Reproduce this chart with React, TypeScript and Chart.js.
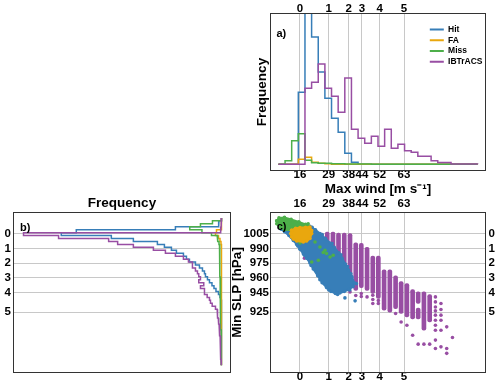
import React, { useEffect, useRef } from 'react';
import { Chart, registerables } from 'chart.js';

Chart.register(...registerables);

const FONT = "'Liberation Sans', Arial, Helvetica, sans-serif";
Chart.defaults.font.family = FONT;
Chart.defaults.color = '#000';

const C_HIT = '#377eb8';
const C_FA = '#e9a70e';
const C_MISS = '#4daf4a';
const C_IBT = '#984ea3';
const GRID = '#c8c8c8';
const FRAME = '#333333';

// ---------- shared ticks ----------
const WIND_TICKS = [16, 29, 38, 44, 52, 63];
const WIND_TICK_LABELS = ['16', '29', '38', '44', '52', '63'];
const CAT_LABELS = ['0', '1', '2', '3', '4', '5'];
const SLP_TICKS = [1005, 990, 975, 960, 945, 925];
const SLP_TICK_LABELS = ['1005', '990', '975', '960', '945', '925'];

// ---------- panel a: max wind histograms ----------
const WIND_EDGES = [6.25, 9.25, 12.25, 15.25, 18.25, 21.25, 24.25, 27.25, 30.25, 33.25, 36.25, 39.25, 42.25, 45.25, 48.25, 51.25, 54.25, 57.25, 60.25, 63.25, 66.25, 69.25, 72.25, 75.25, 78.25, 81.25, 84.25, 87.25, 90.25, 93.25, 96.25];
const HIT_WIND = [0, 0, 0, 72, 200, 127, 92, 66, 46, 32, 11, 2, 0, 0, 0, 0, 0, 0, 0, 0, 0, 0, 0, 0, 0, 0, 0, 0, 0, 0];
const FA_WIND = [0, 0, 0, 5, 7, 2, 1, 0.5, 0, 0, 0, 0, 0, 0, 0, 0, 0, 0, 0, 0, 0, 0, 0, 0, 0, 0, 0, 0, 0, 0];
const MISS_WIND = [0, 3.5, 23.5, 30.5, 4, 1.5, 1, 1, 0.5, 0.5, 0.4, 0.3, 0.2, 0.2, 0, 0, 0, 0, 0, 0, 0, 0, 0, 0, 0, 0, 0, 0, 0, 0];
const IBT_WIND = [0, 0, 0, 0, 76, 82, 100, 76, 68, 52, 86, 35, 26, 21, 28, 18, 35, 16, 20, 13.5, 12, 8, 8, 3.5, 1.8, 1.8, 0.4, 0.4, 0.4, 0.4];

// ---------- panel b: min SLP histograms ----------
const SLP_EDGES = [1021, 1018, 1015, 1012, 1009, 1006, 1003, 1000, 997, 994, 991, 988, 985, 982, 979, 976, 973, 970, 967, 964, 961, 958, 955, 952, 949, 946, 943, 940, 937, 934, 931, 928, 925, 922, 919, 916, 913, 910, 907, 904, 901, 898, 895, 892, 889, 886, 883, 880, 877, 874, 871];
const HIT_SLP = [0, 2.5, 3, 46, 145, 160, 110, 88, 64, 57, 50, 45, 38, 35, 32, 26, 22, 19, 17, 16, 14, 12, 9.5, 7.5, 5.5, 3, 1.5, 0.5, 0, 0, 0, 0, 0, 0, 0, 0, 0, 0, 0, 0, 0, 0, 0, 0, 0, 0, 0, 0, 0, 0];
const FA_SLP = [0, 0, 0, 0, 5, 6, 3, 1.5, 0.5, 0, 0, 0, 0, 0, 0, 0, 0, 0, 0, 0, 0, 0, 0, 0, 0, 0, 0, 0, 0, 0, 0, 0, 0, 0, 0, 0, 0, 0, 0, 0, 0, 0, 0, 0, 0, 0, 0, 0, 0, 0];
const MISS_SLP = [0, 9, 21, 31.7, 19.5, 10, 4.3, 3.5, 2.5, 2, 2, 1.8, 1.8, 1.7, 1.7, 1.6, 1.6, 1.5, 1.5, 1.5, 1.4, 1.4, 1.3, 1.3, 1.2, 1.2, 1.1, 1, 1, 0.9, 0.8, 0.8, 0.7, 0.7, 0.6, 0.6, 0.5, 0.5, 0.4, 0.4, 0.3, 0.3, 0.3, 0.2, 0.2, 0.2, 0.1, 0.1, 0, 0];
const IBT_SLP = [0.3, 0.3, 0.3, 0.5, 1, 197.7, 162.7, 112.7, 103.7, 88, 68, 56, 46, 38, 33, 29, 29, 26, 24, 22.7, 21, 22.7, 17.7, 21, 17, 17, 14.3, 12, 11, 9.3, 6, 4.3, 4, 3.7, 3.2, 2.7, 2.4, 2, 1.8, 1.7, 1.4, 1.2, 1, 0.9, 0.8, 0.7, 0.6, 0.5, 0.4, 0.3];

// ---------- panel c: wind vs SLP ----------
// Hit cloud outline (dense point cloud) and its edge points
const HIT_CLOUD_WIND = [7.0, 9.5, 13, 17, 20.5, 23, 25, 27.5, 29.5, 31.5, 33.5, 35, 36.5, 38, 39.5, 40.5, 40, 38, 36, 34, 32, 30, 28, 26, 24, 22, 20.5, 19, 17.5, 16, 14.5, 13, 11, 9, 7.5];
const HIT_CLOUD_SLP = [1012, 1014, 1014.5, 1014, 1012.5, 1009, 1005, 1000, 995.5, 991, 985.5, 980, 974, 968, 961, 955, 951, 948, 946, 944.5, 944, 946, 950, 955, 962, 969, 975, 980, 984.5, 989, 994, 998, 1003, 1007, 1009.5];
const HIT_DOT_WIND = [21.5, 26, 30.5, 34.5, 37.5, 39, 41.5, 38.5, 33, 29, 25, 21, 18, 15, 12, 36.3, 40.9];
const HIT_DOT_SLP = [1011.5, 1004, 995, 983.5, 971.5, 964, 954, 947.5, 943, 947.5, 958, 972.5, 983, 992.5, 1001.5, 939.5, 936.5];
// Miss cluster outline and scattered points
const MISS_CLOUD_WIND = [5.5, 6.5, 9, 12, 15.5, 18.5, 19.5, 16, 12, 9, 7, 5.5];
const MISS_CLOUD_SLP = [1018, 1021, 1021.5, 1019.5, 1017, 1014.5, 1013, 1011, 1008.5, 1009, 1011.5, 1015];
const MISS_DOT_WIND = [19.7, 16, 22.8, 25, 27.3, 28, 31, 29.6, 24.3, 21.3, 26.5];
const MISS_DOT_SLP = [1015, 995.4, 996.5, 991.4, 988, 984.7, 983, 981.2, 977.8, 976, 985.8];
// FA cluster outline
const FA_CLOUD_WIND = [12.2, 14, 16, 18.5, 20.5, 21.3, 21.3, 20.5, 19, 17.5, 14.5, 13, 12.2, 11.8];
const FA_CLOUD_SLP = [1008.4, 1010.5, 1011.1, 1011.5, 1011.7, 1008, 1005, 1000, 997.5, 996.5, 997.5, 999.5, 1001.5, 1005];
// IBTrACS: 5-kt columns (pressure ranges) and isolated points
const IBT_COL_WIND = [25.7, 28.3, 30.9, 33.4, 36.0, 38.6, 41.2, 43.7, 46.3, 48.9, 51.4, 54.0, 56.6, 59.2, 61.7, 64.3, 66.9, 69.4, 69.4, 72.0, 74.6];
const IBT_COL_TOP = [1005.5, 1006.5, 1006.5, 1005.5, 1005.5, 1005, 995.5, 995, 991, 982, 982, 968, 968, 962, 956, 954, 948, 945.6, 929, 945.6, 943];
const IBT_COL_BOTTOM = [975, 968, 962, 955, 950, 954, 947, 950, 947, 944, 939, 927, 925, 928.6, 923.6, 920, 918, 934, 918, 906.6, 915];
const IBT_DOT_WIND = [18.0, 38.6, 38.6, 41.2, 43.7, 43.7, 46.3, 48.9, 48.9, 48.9, 51.4, 51.4, 59.2, 61.7, 64.3, 66.9, 69.4, 72.0, 74.6, 77.2, 77.2, 77.2, 77.2, 77.2, 77.2, 77.2, 77.2, 77.2, 77.2, 79.7, 79.7, 79.7, 79.7, 79.7, 79.7, 82.3, 82.3, 82.3, 84.9];
const IBT_DOT_SLP = [980, 950.7, 945.6, 942, 944, 941, 940.5, 942.2, 937.9, 933.8, 936.8, 933.8, 923.6, 915, 911.7, 901.5, 892.4, 892.4, 892.4, 940.5, 935.4, 930.3, 926.3, 921.9, 916.8, 911.7, 906.6, 896.5, 888, 933.8, 927.7, 921.9, 916.8, 906.6, 889.6, 910, 888, 883, 899.2];

const LEGEND_LABELS = ['Hit', 'FA', 'Miss', 'IBTrACS'];
const LEGEND_COLORS = [C_HIT, C_FA, C_MISS, C_IBT];

// ---------- helpers ----------
type Pt = { x: number; y: number };

function stepAlongX(edges: number[], vals: number[]): Pt[] {
  const pts: Pt[] = [{ x: edges[0], y: 0 }];
  vals.forEach((v, i) => {
    pts.push({ x: edges[i], y: v });
    pts.push({ x: edges[i + 1], y: v });
  });
  pts.push({ x: edges[edges.length - 1], y: 0 });
  return pts;
}

function stepAlongY(edges: number[], vals: number[]): Pt[] {
  const pts: Pt[] = [{ x: 0, y: edges[0] }];
  vals.forEach((v, i) => {
    pts.push({ x: v, y: edges[i] });
    pts.push({ x: v, y: edges[i + 1] });
  });
  pts.push({ x: 0, y: edges[edges.length - 1] });
  return pts;
}

function zip(xs: number[], ys: number[], close = false): Pt[] {
  const pts = xs.map((x, i) => ({ x, y: ys[i] }));
  if (close) pts.push({ ...pts[0] });
  return pts;
}

const tickFont = { size: 11.5, weight: 'bold' as const };
const titleFont = { size: 13.5, weight: 'bold' as const };

function fixedTicks(values: number[], labels: string[], padding: number) {
  return {
    afterBuildTicks: (s: any) => {
      s.ticks = values.map((v) => ({ value: v }));
    },
    ticks: {
      autoSkip: false,
      maxRotation: 0,
      minRotation: 0,
      padding,
      font: tickFont,
      color: '#000',
      callback: (v: any) => {
        const i = values.indexOf(Number(v));
        return i >= 0 ? labels[i] : '';
      },
    },
  };
}

function framePlugin(label: string, dx: number, dy: number) {
  return {
    id: 'frame',
    afterDatasetsDraw(chart: any) {
      const { ctx, chartArea: a } = chart;
      ctx.save();
      ctx.strokeStyle = FRAME;
      ctx.lineWidth = 1;
      ctx.strokeRect(a.left - 0.5, a.top - 0.5, a.right - a.left + 1, a.bottom - a.top + 1);
      ctx.font = `bold 11px ${FONT}`;
      ctx.fillStyle = '#000';
      ctx.textAlign = 'left';
      ctx.textBaseline = 'middle';
      ctx.fillText(label, a.left + dx, a.top + dy);
      ctx.restore();
    },
  };
}

const noGrid = { display: false, drawTicks: false };
const baseOptions = {
  responsive: false,
  animation: false as const,
  events: [] as any[],
};

function lineSet(label: string, data: Pt[], color: string, order: number) {
  return {
    label,
    data,
    order,
    showLine: true,
    fill: false,
    borderColor: color,
    backgroundColor: color,
    borderWidth: 1.5,
    pointRadius: 0,
  };
}

function buildPanelA(): any {
  return {
    type: 'scatter',
    data: {
      datasets: [
        lineSet('IBTrACS', stepAlongX(WIND_EDGES, IBT_WIND), C_IBT, 0),
        lineSet('Miss', stepAlongX(WIND_EDGES, MISS_WIND), C_MISS, 1),
        lineSet('FA', stepAlongX(WIND_EDGES, FA_WIND), C_FA, 2),
        lineSet('Hit', stepAlongX(WIND_EDGES, HIT_WIND), C_HIT, 3),
      ],
    },
    options: {
      ...baseOptions,
      layout: { padding: { left: 254, right: 15, top: 0, bottom: 188 } },
      plugins: { legend: { display: false }, tooltip: { enabled: false } },
      scales: {
        x: {
          type: 'linear',
          position: 'bottom',
          min: 2.9,
          max: 99.6,
          grid: { color: GRID, drawTicks: false },
          border: { display: false },
          ...fixedTicks(WIND_TICKS, WIND_TICK_LABELS, -2.5),
          title: { display: true, text: 'Max wind [m s\u207B\u00B9]', font: titleFont, color: '#000', padding: { top: 0, bottom: 1 } },
          afterFit: (s: any) => { s.height = 28; },
        },
        x2: {
          type: 'linear',
          position: 'top',
          min: 2.9,
          max: 99.6,
          grid: noGrid,
          border: { display: false },
          ...fixedTicks(WIND_TICKS, CAT_LABELS, -1.6),
          afterFit: (s: any) => { s.height = 14; },
        },
        y: {
          type: 'linear',
          min: -5.7,
          max: 150,
          grid: noGrid,
          border: { display: false },
          ticks: { display: false },
          title: { display: true, text: 'Frequency', font: titleFont, color: '#000', padding: { top: 0, bottom: 0 } },
          afterFit: (s: any) => { s.width = 17; },
        },
      },
    },
    plugins: [framePlugin('a)', 5.5, 19.5)],
  };
}

function buildPanelB(): any {
  return {
    type: 'scatter',
    data: {
      datasets: [
        lineSet('IBTrACS', stepAlongY(SLP_EDGES, IBT_SLP), C_IBT, 0),
        lineSet('Miss', stepAlongY(SLP_EDGES, MISS_SLP), C_MISS, 1),
        lineSet('FA', stepAlongY(SLP_EDGES, FA_SLP), C_FA, 2),
        lineSet('Hit', stepAlongY(SLP_EDGES, HIT_SLP), C_HIT, 3),
      ],
    },
    options: {
      ...baseOptions,
      layout: { padding: { left: 0, right: 270, top: 193, bottom: 14 } },
      plugins: { legend: { display: false }, tooltip: { enabled: false } },
      scales: {
        x: {
          type: 'linear',
          position: 'top',
          reverse: true,
          min: -8.5,
          max: 207.2,
          grid: noGrid,
          border: { display: false },
          ticks: { display: false },
          title: { display: true, text: 'Frequency', font: titleFont, color: '#000', padding: { top: 2, bottom: 0 } },
          afterFit: (s: any) => { s.height = 20; },
        },
        y: {
          type: 'linear',
          position: 'left',
          min: 864,
          max: 1026,
          grid: { color: GRID, drawTicks: false },
          border: { display: false },
          ...fixedTicks(SLP_TICKS, CAT_LABELS, 3),
          afterFit: (s: any) => { s.width = 14; },
        },
      },
    },
    plugins: [framePlugin('b)', 6, 14.5)],
  };
}

function cloudSet(label: string, xs: number[], ys: number[], color: string, order: number) {
  return {
    label,
    data: zip(xs, ys, true),
    order,
    showLine: true,
    fill: 'shape',
    borderColor: color,
    backgroundColor: color,
    borderWidth: 2,
    pointRadius: 1.8,
    pointBorderWidth: 0,
    pointBackgroundColor: color,
  };
}

function dotSet(label: string, xs: number[], ys: number[], color: string, order: number) {
  return {
    label,
    data: zip(xs, ys),
    order,
    pointRadius: 1.8,
    pointBorderWidth: 0,
    pointBackgroundColor: color,
    backgroundColor: color,
    borderColor: color,
  };
}

function buildPanelC(): any {
  const cols = IBT_COL_WIND.map((w, i) => ({ x: w, y: [IBT_COL_BOTTOM[i], IBT_COL_TOP[i]] }));
  return {
    type: 'scatter',
    data: {
      datasets: [
        cloudSet('FA', FA_CLOUD_WIND, FA_CLOUD_SLP, C_FA, 1),
        cloudSet('Miss', MISS_CLOUD_WIND, MISS_CLOUD_SLP, C_MISS, 2),
        dotSet('Miss points', MISS_DOT_WIND, MISS_DOT_SLP, C_MISS, 2),
        cloudSet('Hit', HIT_CLOUD_WIND, HIT_CLOUD_SLP, C_HIT, 3),
        dotSet('Hit points', HIT_DOT_WIND, HIT_DOT_SLP, C_HIT, 3),
        dotSet('IBTrACS points', IBT_DOT_WIND, IBT_DOT_SLP, C_IBT, 4),
        {
          type: 'bar',
          label: 'IBTrACS',
          data: cols,
          order: 5,
          backgroundColor: C_IBT,
          borderWidth: 0,
          barThickness: 4,
          borderRadius: 2,
          borderSkipped: false,
        },
      ],
    },
    options: {
      ...baseOptions,
      layout: { padding: { left: 229, right: 0, top: 193, bottom: 0 } },
      plugins: { legend: { display: false }, tooltip: { enabled: false } },
      scales: {
        x: {
          type: 'linear',
          position: 'bottom',
          offset: false,
          min: 2.9,
          max: 99.6,
          grid: { color: GRID, drawTicks: false, offset: false },
          border: { display: false },
          ...fixedTicks(WIND_TICKS, CAT_LABELS, -1.6),
          afterFit: (s: any) => { s.height = 14; },
        },
        x2: {
          type: 'linear',
          position: 'top',
          offset: false,
          min: 2.9,
          max: 99.6,
          grid: noGrid,
          border: { display: false },
          ...fixedTicks(WIND_TICKS, WIND_TICK_LABELS, 2.4),
          afterFit: (s: any) => { s.height = 20; },
        },
        y: {
          type: 'linear',
          position: 'left',
          min: 864,
          max: 1026,
          beginAtZero: false,
          grid: { color: GRID, drawTicks: false },
          border: { display: false },
          ...fixedTicks(SLP_TICKS, SLP_TICK_LABELS, 2),
          title: { display: true, text: 'Min SLP [hPa]', font: titleFont, color: '#000', padding: { top: 0, bottom: 0 } },
          afterFit: (s: any) => { s.width = 42; },
        },
        y2: {
          type: 'linear',
          position: 'right',
          min: 864,
          max: 1026,
          grid: noGrid,
          border: { display: false },
          ...fixedTicks(SLP_TICKS, CAT_LABELS, 3.5),
          afterFit: (s: any) => { s.width = 15; },
        },
      },
    },
    plugins: [framePlugin('c)', 5.7, 13.7)],
  };
}

function buildLegend(): any {
  return {
    type: 'line',
    data: {
      labels: [],
      datasets: LEGEND_LABELS.map((label, i) => ({
        label,
        data: [],
        borderColor: LEGEND_COLORS[i],
        backgroundColor: LEGEND_COLORS[i],
        borderWidth: 0,
      })),
    },
    options: {
      ...baseOptions,
      layout: { padding: { left: 1.6, top: 2.1, right: 0, bottom: 0 } },
      scales: { x: { display: false }, y: { display: false } },
      plugins: {
        tooltip: { enabled: false },
        legend: {
          display: true,
          position: 'left',
          align: 'start',
          labels: {
            boxWidth: 14,
            boxHeight: 2,
            padding: 2.2,
            color: '#000',
            font: { size: 8.5, weight: 'bold' },
          },
        },
      },
    },
  };
}

export default function App() {
  const refA = useRef<HTMLCanvasElement>(null);
  const refB = useRef<HTMLCanvasElement>(null);
  const refC = useRef<HTMLCanvasElement>(null);
  const refL = useRef<HTMLCanvasElement>(null);

  useEffect(() => {
    const charts = [
      new Chart(refB.current as HTMLCanvasElement, buildPanelB()),
      new Chart(refC.current as HTMLCanvasElement, buildPanelC()),
      new Chart(refA.current as HTMLCanvasElement, buildPanelA()),
      new Chart(refL.current as HTMLCanvasElement, buildLegend()),
    ];
    return () => charts.forEach((c) => c.destroy());
  }, []);

  const abs = (left: number, top: number): React.CSSProperties => ({ position: 'absolute', left, top });

  return (
    <div style={{ position: 'fixed', left: 0, top: 0, width: 500, height: 386, overflow: 'hidden', background: '#fff' }}>
      <canvas ref={refB} width={500} height={386} style={abs(0, 0)} />
      <canvas ref={refC} width={500} height={386} style={abs(0, 0)} />
      <canvas ref={refA} width={500} height={386} style={abs(0, 0)} />
      <canvas ref={refL} width={140} height={60} style={abs(426, 21)} />
    </div>
  );
}
